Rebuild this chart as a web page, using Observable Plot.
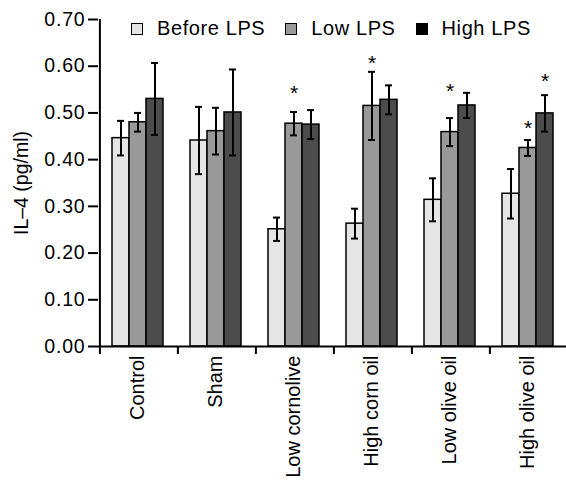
<!DOCTYPE html>
<html>
<head>
<meta charset="utf-8">
<script src="https://cdn.jsdelivr.net/npm/d3@7"></script>
<script src="https://cdn.jsdelivr.net/npm/@observablehq/plot@0.6"></script>
<style>
  html, body { margin: 0; padding: 0; background: #fff; }
  #wrap { position: relative; width: 566px; height: 492px; font-family: "Liberation Sans", Arial, sans-serif; }
  #legend { position: absolute; left: 131px; top: 18px; display: flex; gap: 20px; font-size: 20px; line-height: 20px; letter-spacing: 0.6px; color: #000; }
  #legend .item { display: flex; align-items: center; gap: 14px; }
  #legend .sw { width: 10px; height: 10px; border: 1.5px solid #000; margin-top: 1px; }
  g[aria-label="y-axis tick label"] text { letter-spacing: 0.8px; }
</style>
</head>
<body>
<div id="wrap"><div id="legend"></div></div>
<script>
const groups = ["Control", "Sham", "Low cornolive", "High corn oil", "Low olive oil", "High olive oil"];
const series = ["Before LPS", "Low LPS", "High LPS"];
const seriesColors = ["#e5e5e5", "#999999", "#4c4c4c"];
const legendColors = ["#e5e5e5", "#999999", "#000000"];

const beforeLPS = [0.446, 0.441, 0.251, 0.263, 0.314, 0.327];
const beforeErr = [0.037, 0.072, 0.025, 0.032, 0.046, 0.053];
const lowLPS    = [0.480, 0.461, 0.477, 0.515, 0.459, 0.425];
const lowErr    = [0.020, 0.050, 0.025, 0.073, 0.030, 0.017];
const highLPS   = [0.530, 0.501, 0.475, 0.528, 0.516, 0.499];
const highErr   = [0.077, 0.092, 0.031, 0.031, 0.027, 0.039];

const starGroups = ["Low cornolive", "High corn oil", "Low olive oil", "High olive oil", "High olive oil"];
const starSeries = ["Low LPS", "Low LPS", "Low LPS", "Low LPS", "High LPS"];
const starLevels = [0.552, 0.617, 0.557, 0.478, 0.578];

const yTicks = [0, 0.1, 0.2, 0.3, 0.4, 0.5, 0.6, 0.7];

const values = [beforeLPS, lowLPS, highLPS];
const errs = [beforeErr, lowErr, highErr];
const rows = [];
groups.forEach((g, i) => series.forEach((s, j) => rows.push({group: g, series: s, value: values[j][i], err: errs[j][i]})));
const stars = starGroups.map((g, i) => ({group: g, series: starSeries[i], y: starLevels[i]}));

const chart = Plot.plot({
  width: 566,
  height: 492,
  marginLeft: 97,
  marginRight: 0,
  marginTop: 19,
  marginBottom: 146,
  style: {fontFamily: "'Liberation Sans', Arial, sans-serif", color: "#000", background: "#fff"},
  fx: {domain: groups, padding: 0, label: null},
  x: {domain: series, paddingInner: 0, paddingOuter: 0.67, axis: null},
  y: {domain: [0, 0.7]},
  color: {domain: series, range: seriesColors},
  marks: [
    Plot.axisY({ticks: yTicks, tickFormat: d3.format(".2f"), tickSize: 10, tickPadding: 3, strokeWidth: 2, fontSize: 19.5,
      label: "IL–4 (pg/ml)", labelAnchor: "center", labelOffset: 84, labelArrow: "none"}),
    Plot.axisFx({anchor: "bottom", tickSize: 0, tickRotate: -90, textAnchor: "end", tickPadding: 9, fontSize: 20, label: null}),
    Plot.barY(rows, {fx: "group", x: "series", y: "value", fill: "series", stroke: "#000", strokeWidth: 1.5}),
    Plot.ruleX(rows, {fx: "group", x: "series", y1: d => d.value - d.err, y2: d => d.value + d.err, stroke: "#000", strokeWidth: 2}),
    Plot.tickY(rows, {fx: "group", x: "series", y: d => d.value + d.err, insetLeft: 5, insetRight: 5, stroke: "#000", strokeWidth: 2}),
    Plot.tickY(rows, {fx: "group", x: "series", y: d => d.value - d.err, insetLeft: 5, insetRight: 5, stroke: "#000", strokeWidth: 2}),
    Plot.ruleY([0], {stroke: "#000", strokeWidth: 2}),
    Plot.ruleX(groups, {fx: d => d, x: () => series[0], dx: -21.1, y1: -0.017, y2: d => d === groups[0] ? 0.7 : 0, stroke: "#000", strokeWidth: 2}),
    Plot.text(stars, {fx: "group", x: "series", y: "y", text: () => "*", fontSize: 21, dy: 5, fill: "#000"})
  ]
});
document.getElementById("wrap").prepend(chart);

const legend = document.getElementById("legend");
series.forEach((s, i) => {
  const item = document.createElement("div");
  item.className = "item";
  const sw = document.createElement("div");
  sw.className = "sw";
  sw.style.background = legendColors[i];
  const t = document.createElement("span");
  t.textContent = s;
  item.append(sw, t);
  legend.append(item);
});
</script>
</body>
</html>
